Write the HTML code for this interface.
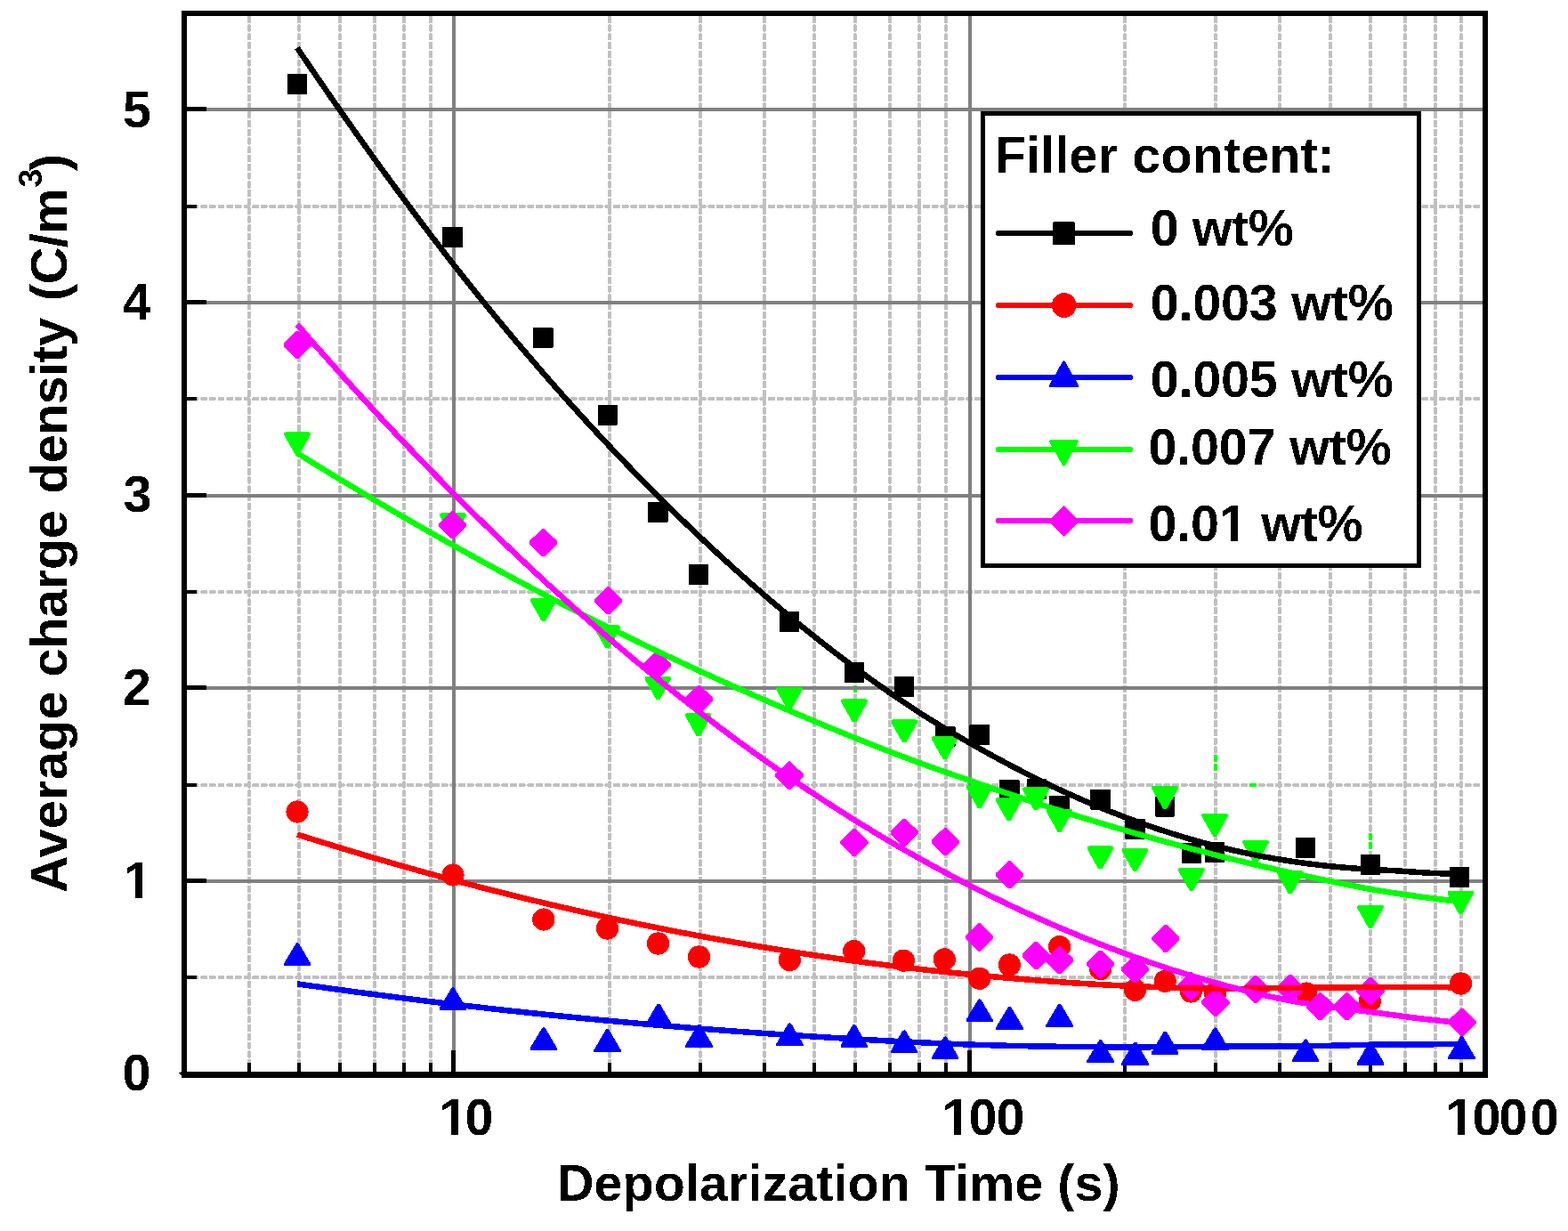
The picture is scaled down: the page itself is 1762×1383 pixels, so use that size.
<!DOCTYPE html>
<html lang="en"><head><meta charset="utf-8"><title>Average charge density vs depolarization time</title>
<style>
html,body{margin:0;padding:0;background:#fff}
body{width:1762px;height:1383px;overflow:hidden}
svg{display:block;shape-rendering:crispEdges}
text{font-family:"Liberation Sans",sans-serif;font-weight:bold;fill:#000}
.gM{stroke:#808080;stroke-width:4;fill:none}
.gm{stroke:#c0c0c0;stroke-width:4;fill:none;stroke-linecap:round}
.gv{stroke-dasharray:4.6 5.17;stroke-dashoffset:-1.52}
.gh{stroke-dasharray:4.3 5.363;stroke-dashoffset:-7.37}
.fit{fill:none;stroke-width:6.5;stroke-linecap:butt;stroke-linejoin:round}
.lg{fill:none;stroke-width:6.3;stroke-linecap:round}
</style></head><body>
<svg width="1762" height="1383" viewBox="0 0 1762 1383" role="img" aria-label="Average charge density versus depolarization time for five filler contents">
<defs><filter id="hard" filterUnits="userSpaceOnUse" x="0" y="0" width="1762" height="1383" color-interpolation-filters="sRGB"><feComponentTransfer><feFuncA type="discrete" tableValues="0 1"/></feComponentTransfer></filter></defs>
<rect width="1762" height="1383" fill="#fff"/>
<g class="gm">
<path class="gv" d="M280 18V1204"/>
<path class="gv" d="M336 18V1204"/>
<path class="gv" d="M382 18V1204"/>
<path class="gv" d="M421 18V1204"/>
<path class="gv" d="M454 18V1204"/>
<path class="gv" d="M484 18V1204"/>
<path class="gv" d="M685 18V1204"/>
<path class="gv" d="M787 18V1204"/>
<path class="gv" d="M859 18V1204"/>
<path class="gv" d="M915 18V1204"/>
<path class="gv" d="M961 18V1204"/>
<path class="gv" d="M1000 18V1204"/>
<path class="gv" d="M1033 18V1204"/>
<path class="gv" d="M1063 18V1204"/>
<path class="gv" d="M1264 18V1204"/>
<path class="gv" d="M1366 18V1204"/>
<path class="gv" d="M1438 18V1204"/>
<path class="gv" d="M1495 18V1204"/>
<path class="gv" d="M1540 18V1204"/>
<path class="gv" d="M1579 18V1204"/>
<path class="gv" d="M1613 18V1204"/>
<path class="gv" d="M1642 18V1204"/>
<path class="gh" d="M210 232H1666"/>
<path class="gh" d="M210 448H1666"/>
<path class="gh" d="M210 665H1666"/>
<path class="gh" d="M210 882H1666"/>
<path class="gh" d="M210 1098H1666"/>
</g>
<g stroke="#0f0" stroke-width="4" fill="none" stroke-linecap="round">
<path d="M961 771.81v4.6"/>
<path d="M1366 849.97v4.6"/>
<path d="M1366 859.74v4.6"/>
<path d="M1540 937.9v4.6"/>
<path d="M1540 947.67v4.6"/>
<path d="M1405.92 882h4.3"/>
</g>
<g class="gM">
<path d="M510 18V1204"/>
<path d="M1090 18V1204"/>
<path d="M210 123H1666"/>
<path d="M210 340H1666"/>
<path d="M210 557H1666"/>
<path d="M210 773H1666"/>
<path d="M210 990H1666"/>
</g>
<g fill="#000">
<rect x="209" y="120" width="23" height="5" rx="1"/>
<rect x="209" y="337" width="23" height="5" rx="1"/>
<rect x="209" y="554" width="23" height="5" rx="1"/>
<rect x="209" y="770" width="23" height="5" rx="1"/>
<rect x="209" y="987" width="23" height="5" rx="1"/>
<rect x="209" y="230" width="12" height="4" rx="1"/>
<rect x="209" y="446" width="12" height="4" rx="1"/>
<rect x="209" y="663" width="12" height="4" rx="1"/>
<rect x="209" y="880" width="12" height="4" rx="1"/>
<rect x="209" y="1096" width="12" height="4" rx="1"/>
<rect x="507" y="1180.2" width="5" height="25" rx="1"/>
<rect x="1087" y="1180.2" width="5" height="25" rx="1"/>
<rect x="278" y="1194.2" width="4" height="11" rx="1"/>
<rect x="334" y="1194.2" width="4" height="11" rx="1"/>
<rect x="380" y="1194.2" width="4" height="11" rx="1"/>
<rect x="419" y="1194.2" width="4" height="11" rx="1"/>
<rect x="452" y="1194.2" width="4" height="11" rx="1"/>
<rect x="482" y="1194.2" width="4" height="11" rx="1"/>
<rect x="683" y="1194.2" width="4" height="11" rx="1"/>
<rect x="785" y="1194.2" width="4" height="11" rx="1"/>
<rect x="857" y="1194.2" width="4" height="11" rx="1"/>
<rect x="913" y="1194.2" width="4" height="11" rx="1"/>
<rect x="959" y="1194.2" width="4" height="11" rx="1"/>
<rect x="998" y="1194.2" width="4" height="11" rx="1"/>
<rect x="1031" y="1194.2" width="4" height="11" rx="1"/>
<rect x="1061" y="1194.2" width="4" height="11" rx="1"/>
<rect x="1262" y="1194.2" width="4" height="11" rx="1"/>
<rect x="1364" y="1194.2" width="4" height="11" rx="1"/>
<rect x="1436" y="1194.2" width="4" height="11" rx="1"/>
<rect x="1493" y="1194.2" width="4" height="11" rx="1"/>
<rect x="1538" y="1194.2" width="4" height="11" rx="1"/>
<rect x="1577" y="1194.2" width="4" height="11" rx="1"/>
<rect x="1611" y="1194.2" width="4" height="11" rx="1"/>
<rect x="1640" y="1194.2" width="4" height="11" rx="1"/>
</g>
<g fill="#000">
<rect x="322.9" y="82.9" width="22.4" height="23" rx="0.8"/>
<rect x="497.4" y="255" width="22.4" height="23" rx="0.8"/>
<rect x="599.1" y="368" width="22.4" height="23" rx="0.8"/>
<rect x="671.5" y="454.5" width="22.4" height="23" rx="0.8"/>
<rect x="728.1" y="563.9" width="22.4" height="23" rx="0.8"/>
<rect x="773.5" y="633.8" width="22.4" height="23" rx="0.8"/>
<rect x="875.9" y="687" width="22.4" height="23" rx="0.8"/>
<rect x="948.8" y="744.1" width="22.4" height="23" rx="0.8"/>
<rect x="1005" y="760.4" width="22.4" height="23" rx="0.8"/>
<rect x="1051.2" y="816" width="22.4" height="23" rx="0.8"/>
<rect x="1089.4" y="814.1" width="22.4" height="23" rx="0.8"/>
<rect x="1123.1" y="875.9" width="22.4" height="23" rx="0.8"/>
<rect x="1153.5" y="875" width="22.4" height="23" rx="0.8"/>
<rect x="1179.3" y="893.5" width="22.4" height="23" rx="0.8"/>
<rect x="1225.2" y="886.5" width="22.4" height="23" rx="0.8"/>
<rect x="1264.2" y="919.5" width="22.4" height="23" rx="0.8"/>
<rect x="1297.8" y="894.5" width="22.4" height="23" rx="0.8"/>
<rect x="1327.5" y="947" width="22.4" height="23" rx="0.8"/>
<rect x="1353.9" y="946" width="22.4" height="23" rx="0.8"/>
<rect x="1455.6" y="940.8" width="22.4" height="23" rx="0.8"/>
<rect x="1528.5" y="960.3" width="22.4" height="23" rx="0.8"/>
<rect x="1628.9" y="974" width="22.4" height="23" rx="0.8"/>
</g>
<g fill="#f00">
<circle cx="334" cy="912" r="12.6"/>
<circle cx="509" cy="983" r="12.6"/>
<circle cx="610.8" cy="1033" r="12.6"/>
<circle cx="682.5" cy="1043" r="12.6"/>
<circle cx="739.5" cy="1060" r="12.6"/>
<circle cx="785.5" cy="1075" r="12.6"/>
<circle cx="887.3" cy="1078.6" r="12.6"/>
<circle cx="959.7" cy="1068.6" r="12.6"/>
<circle cx="1015.4" cy="1079.1" r="12.6"/>
<circle cx="1061.3" cy="1077.9" r="12.6"/>
<circle cx="1100.7" cy="1099.3" r="12.6"/>
<circle cx="1134.4" cy="1084" r="12.6"/>
<circle cx="1190.6" cy="1063.6" r="12.6"/>
<circle cx="1236.6" cy="1088.6" r="12.6"/>
<circle cx="1275.5" cy="1112.3" r="12.6"/>
<circle cx="1309.2" cy="1102.3" r="12.6"/>
<circle cx="1338.4" cy="1114" r="12.6"/>
<circle cx="1365.5" cy="1116" r="12.6"/>
<circle cx="1467.9" cy="1116" r="12.6"/>
<circle cx="1539.3" cy="1124.9" r="12.6"/>
<circle cx="1641.5" cy="1105" r="12.6"/>
</g>
<g fill="#00f">
<path d="M318.9 1085.2L318.9 1082.8L332.6 1059.8L334.4 1059.2L336.1 1060.2L349.3 1082.8L349.3 1085.2Z"/>
<path d="M493.7 1135.1L493.7 1132.7L507.4 1109.7L509.2 1109.1L510.9 1110.1L524.1 1132.7L524.1 1135.1Z"/>
<path d="M595.6 1180.1L595.6 1177.7L609.3 1154.7L611.1 1154.1L612.8 1155.1L626 1177.7L626 1180.1Z"/>
<path d="M667.3 1182L667.3 1179.6L681 1156.6L682.8 1156L684.5 1157L697.7 1179.6L697.7 1182Z"/>
<path d="M724.8 1153.5L724.8 1151.1L738.5 1128.1L740.3 1127.5L742 1128.5L755.2 1151.1L755.2 1153.5Z"/>
<path d="M770.3 1176.5L770.3 1174.1L784 1151.1L785.8 1150.5L787.5 1151.5L800.7 1174.1L800.7 1176.5Z"/>
<path d="M872.1 1175.3L872.1 1172.9L885.8 1149.9L887.6 1149.3L889.3 1150.3L902.5 1172.9L902.5 1175.3Z"/>
<path d="M944.5 1177L944.5 1174.6L958.2 1151.6L960 1151L961.7 1152L974.9 1174.6L974.9 1177Z"/>
<path d="M1000.7 1183.3L1000.7 1180.9L1014.4 1157.9L1016.2 1157.3L1017.9 1158.3L1031.1 1180.9L1031.1 1183.3Z"/>
<path d="M1046.9 1190.3L1046.9 1187.9L1060.6 1164.9L1062.4 1164.3L1064.1 1165.3L1077.3 1187.9L1077.3 1190.3Z"/>
<path d="M1085.5 1148.3L1085.5 1145.9L1099.2 1122.9L1101 1122.3L1102.7 1123.3L1115.9 1145.9L1115.9 1148.3Z"/>
<path d="M1119.2 1156.6L1119.2 1154.2L1132.9 1131.2L1134.7 1130.6L1136.4 1131.6L1149.6 1154.2L1149.6 1156.6Z"/>
<path d="M1175.4 1153.8L1175.4 1151.4L1189.1 1128.4L1190.9 1127.8L1192.6 1128.8L1205.8 1151.4L1205.8 1153.8Z"/>
<path d="M1221.4 1194L1221.4 1191.6L1235.1 1168.6L1236.9 1168L1238.6 1169L1251.8 1191.6L1251.8 1194Z"/>
<path d="M1260.3 1196.5L1260.3 1194.1L1274 1171.1L1275.8 1170.5L1277.5 1171.5L1290.7 1194.1L1290.7 1196.5Z"/>
<path d="M1294 1184.5L1294 1182.1L1307.7 1159.1L1309.5 1158.5L1311.2 1159.5L1324.4 1182.1L1324.4 1184.5Z"/>
<path d="M1350.3 1180.2L1350.3 1177.8L1364 1154.8L1365.8 1154.2L1367.5 1155.2L1380.7 1177.8L1380.7 1180.2Z"/>
<path d="M1451.8 1193.3L1451.8 1190.9L1465.5 1167.9L1467.3 1167.3L1469 1168.3L1482.2 1190.9L1482.2 1193.3Z"/>
<path d="M1524.8 1196.5L1524.8 1194.1L1538.5 1171.1L1540.3 1170.5L1542 1171.5L1555.2 1194.1L1555.2 1196.5Z"/>
<path d="M1627.2 1190L1627.2 1187.6L1640.9 1164.6L1642.7 1164L1644.4 1165L1657.6 1187.6L1657.6 1190Z"/>
</g>
<g fill="#0f0">
<path d="M319.3 486.5L321.4 485.3L346.6 485.3L348.7 486.5L348.7 488.9L336.2 511.3L332 511.3L319.3 488.9Z"/>
<path d="M494.3 577.6L496.4 576.4L521.6 576.4L523.7 577.6L523.7 580L511.2 602.4L507 602.4L494.3 580Z"/>
<path d="M596 673L598.1 671.8L623.3 671.8L625.4 673L625.4 675.4L612.9 697.8L608.7 697.8L596 675.4Z"/>
<path d="M667.7 703.5L669.8 702.3L695 702.3L697.1 703.5L697.1 705.9L684.6 728.3L680.4 728.3L667.7 705.9Z"/>
<path d="M724.6 760.9L726.7 759.7L751.9 759.7L754 760.9L754 763.3L741.5 785.7L737.3 785.7L724.6 763.3Z"/>
<path d="M770 802.1L772.1 800.9L797.3 800.9L799.4 802.1L799.4 804.5L786.9 826.9L782.7 826.9L770 804.5Z"/>
<path d="M872.3 772.7L874.4 771.5L899.6 771.5L901.7 772.7L901.7 775.1L889.2 797.5L885 797.5L872.3 775.1Z"/>
<path d="M945.3 786.6L947.4 785.4L972.6 785.4L974.7 786.6L974.7 789L962.2 811.4L958 811.4L945.3 789Z"/>
<path d="M1001.5 809.6L1003.6 808.4L1028.8 808.4L1030.9 809.6L1030.9 812L1018.4 834.4L1014.2 834.4L1001.5 812Z"/>
<path d="M1046.9 828.2L1049 827L1074.2 827L1076.3 828.2L1076.3 830.6L1063.8 853L1059.6 853L1046.9 830.6Z"/>
<path d="M1085.9 883L1088 881.8L1113.2 881.8L1115.3 883L1115.3 885.4L1102.8 907.8L1098.6 907.8L1085.9 885.4Z"/>
<path d="M1118.8 897.2L1120.9 896L1146.1 896L1148.2 897.2L1148.2 899.6L1135.7 922L1131.5 922L1118.8 899.6Z"/>
<path d="M1149.3 885.5L1151.4 884.3L1176.6 884.3L1178.7 885.5L1178.7 887.9L1166.2 910.3L1162 910.3L1149.3 887.9Z"/>
<path d="M1175.8 909.7L1177.9 908.5L1203.1 908.5L1205.2 909.7L1205.2 912.1L1192.7 934.5L1188.5 934.5L1175.8 912.1Z"/>
<path d="M1221.7 951.6L1223.8 950.4L1249 950.4L1251.1 951.6L1251.1 954L1238.6 976.4L1234.4 976.4L1221.7 954Z"/>
<path d="M1260.7 953.9L1262.8 952.7L1288 952.7L1290.1 953.9L1290.1 956.3L1277.6 978.7L1273.4 978.7L1260.7 956.3Z"/>
<path d="M1294.4 884L1296.5 882.8L1321.7 882.8L1323.8 884L1323.8 886.4L1311.3 908.8L1307.1 908.8L1294.4 886.4Z"/>
<path d="M1324.1 975.9L1326.2 974.7L1351.4 974.7L1353.5 975.9L1353.5 978.3L1341 1000.7L1336.8 1000.7L1324.1 978.3Z"/>
<path d="M1350.4 914.7L1352.5 913.5L1377.7 913.5L1379.8 914.7L1379.8 917.1L1367.3 939.5L1363.1 939.5L1350.4 917.1Z"/>
<path d="M1396.4 944.8L1398.5 943.6L1423.7 943.6L1425.8 944.8L1425.8 947.2L1413.3 969.6L1409.1 969.6L1396.4 947.2Z"/>
<path d="M1435.1 979.2L1437.2 978L1462.4 978L1464.5 979.2L1464.5 981.6L1452 1004L1447.8 1004L1435.1 981.6Z"/>
<path d="M1525.1 1017.8L1527.2 1016.6L1552.4 1016.6L1554.5 1017.8L1554.5 1020.2L1542 1042.6L1537.8 1042.6L1525.1 1020.2Z"/>
<path d="M1626.5 1001.7L1628.6 1000.5L1653.8 1000.5L1655.9 1001.7L1655.9 1004.1L1643.4 1026.5L1639.2 1026.5L1626.5 1004.1Z"/>
</g>
<g fill="#f0f">
<path d="M333 371.8L335.4 371.8L349.9 386L349.9 389L335.9 403L332.5 403L318.5 388.9L318.5 386Z"/>
<path d="M507.3 574.1L509.7 574.1L524.2 588.3L524.2 591.3L510.2 605.3L506.8 605.3L492.8 591.2L492.8 588.3Z"/>
<path d="M609.3 593.9L611.7 593.9L626.2 608.1L626.2 611.1L612.2 625.1L608.8 625.1L594.8 611L594.8 608.1Z"/>
<path d="M682.4 659.2L684.8 659.2L699.3 673.4L699.3 676.4L685.3 690.4L681.9 690.4L667.9 676.3L667.9 673.4Z"/>
<path d="M737.3 731.6L739.7 731.6L754.2 745.8L754.2 748.8L740.2 762.8L736.8 762.8L722.8 748.7L722.8 745.8Z"/>
<path d="M784.3 769.8L786.7 769.8L801.2 784L801.2 787L787.2 801L783.8 801L769.8 786.9L769.8 784Z"/>
<path d="M885.8 855.4L888.2 855.4L902.7 869.6L902.7 872.6L888.7 886.6L885.3 886.6L871.3 872.5L871.3 869.6Z"/>
<path d="M958.8 931.1L961.2 931.1L975.7 945.3L975.7 948.3L961.7 962.3L958.3 962.3L944.3 948.2L944.3 945.3Z"/>
<path d="M1015 919.6L1017.4 919.6L1031.9 933.8L1031.9 936.8L1017.9 950.8L1014.5 950.8L1000.5 936.7L1000.5 933.8Z"/>
<path d="M1061.2 929.9L1063.6 929.9L1078.1 944.1L1078.1 947.1L1064.1 961.1L1060.7 961.1L1046.7 947L1046.7 944.1Z"/>
<path d="M1099.5 1037.3L1101.9 1037.3L1116.4 1051.5L1116.4 1054.5L1102.4 1068.5L1099 1068.5L1085 1054.4L1085 1051.5Z"/>
<path d="M1133.3 967L1135.7 967L1150.2 981.2L1150.2 984.2L1136.2 998.2L1132.8 998.2L1118.8 984.1L1118.8 981.2Z"/>
<path d="M1163 1058L1165.4 1058L1179.9 1072.2L1179.9 1075.2L1165.9 1089.2L1162.5 1089.2L1148.5 1075.1L1148.5 1072.2Z"/>
<path d="M1189.4 1063L1191.8 1063L1206.3 1077.2L1206.3 1080.2L1192.3 1094.2L1188.9 1094.2L1174.9 1080.1L1174.9 1077.2Z"/>
<path d="M1235.4 1067.5L1237.8 1067.5L1252.3 1081.7L1252.3 1084.7L1238.3 1098.7L1234.9 1098.7L1220.9 1084.6L1220.9 1081.7Z"/>
<path d="M1274.3 1073L1276.7 1073L1291.2 1087.2L1291.2 1090.2L1277.2 1104.2L1273.8 1104.2L1259.8 1090.1L1259.8 1087.2Z"/>
<path d="M1308.5 1038.8L1310.9 1038.8L1325.4 1053L1325.4 1056L1311.4 1070L1308 1070L1294 1055.9L1294 1053Z"/>
<path d="M1337.2 1092.4L1339.6 1092.4L1354.1 1106.6L1354.1 1109.6L1340.1 1123.6L1336.7 1123.6L1322.7 1109.5L1322.7 1106.6Z"/>
<path d="M1364.6 1110.5L1367 1110.5L1381.5 1124.7L1381.5 1127.7L1367.5 1141.7L1364.1 1141.7L1350.1 1127.6L1350.1 1124.7Z"/>
<path d="M1409.8 1095.5L1412.2 1095.5L1426.7 1109.7L1426.7 1112.7L1412.7 1126.7L1409.3 1126.7L1395.3 1112.6L1395.3 1109.7Z"/>
<path d="M1448.7 1094.6L1451.1 1094.6L1465.6 1108.8L1465.6 1111.8L1451.6 1125.8L1448.2 1125.8L1434.2 1111.7L1434.2 1108.8Z"/>
<path d="M1482.7 1115.2L1485.1 1115.2L1499.6 1129.4L1499.6 1132.4L1485.6 1146.4L1482.2 1146.4L1468.2 1132.3L1468.2 1129.4Z"/>
<path d="M1512.5 1115.1L1514.9 1115.1L1529.4 1129.3L1529.4 1132.3L1515.4 1146.3L1512 1146.3L1498 1132.2L1498 1129.3Z"/>
<path d="M1538.8 1098L1541.2 1098L1555.7 1112.2L1555.7 1115.2L1541.7 1129.2L1538.3 1129.2L1524.3 1115.1L1524.3 1112.2Z"/>
<path d="M1641.7 1132.5L1644.1 1132.5L1658.6 1146.7L1658.6 1149.7L1644.6 1163.7L1641.2 1163.7L1627.2 1149.6L1627.2 1146.7Z"/>
</g>
<path class="fit" stroke="#000" d="M334 53.78L352.9 81.69L371.9 109.28L390.8 136.46L409.8 163.21L428.7 189.55L447.7 215.49L466.6 241.01L485.6 266.07L504.5 290.63L523.5 314.67L542.4 338.24L561.4 361.35L580.3 384.02L599.3 406.24L618.2 428.05L637.2 449.43L656.1 470.4L675.1 490.95L694 511.06L713 530.75L731.9 550.02L750.9 568.89L769.8 587.35L788.8 605.4L807.7 623.06L826.7 640.29L845.6 657.11L864.6 673.5L883.5 689.47L902.5 705.02L921.4 720.14L940.4 734.84L959.3 749.12L978.3 762.98L997.2 776.4L1016.2 789.38L1035.1 801.85L1054.1 813.71L1073 825.05L1092 836.02L1110.9 846.67L1129.9 856.95L1148.8 866.84L1167.8 876.33L1186.7 885.39L1205.7 894.04L1224.6 902.27L1243.6 910.09L1262.5 917.51L1281.5 924.51L1300.4 931.09L1319.4 937.24L1338.3 942.97L1357.3 948.26L1376.2 953.09L1395.2 957.42L1414.1 961.29L1433.1 964.74L1452 967.8L1471 970.46L1489.9 972.7L1508.9 974.54L1527.8 975.96L1546.8 977.06L1565.7 978.11L1584.7 979.35L1603.6 980.59L1622.6 981.5L1641.5 982.01"/>
<path class="fit" stroke="#f00" d="M334 937.51L352.9 943.46L371.9 949.32L390.8 955.09L409.8 960.75L428.7 966.3L447.7 971.75L466.6 977.1L485.6 982.34L504.5 987.48L523.5 992.51L542.4 997.44L561.4 1002.27L580.3 1006.99L599.3 1011.6L618.2 1016.12L637.2 1020.52L656.1 1024.83L675.1 1029.03L694 1033.12L713 1037.11L731.9 1041L750.9 1044.78L769.8 1048.46L788.8 1052.03L807.7 1055.5L826.7 1058.86L845.6 1062.12L864.6 1065.28L883.5 1068.33L902.5 1071.28L921.4 1074.12L940.4 1076.86L959.3 1079.5L978.3 1082.03L997.2 1084.45L1016.2 1086.77L1035.1 1088.99L1054.1 1091.1L1073 1093.11L1092 1095.02L1110.9 1096.82L1129.9 1098.51L1148.8 1100.11L1167.8 1101.59L1186.7 1102.98L1205.7 1104.26L1224.6 1105.43L1243.6 1106.5L1262.5 1107.46L1281.5 1108.31L1300.4 1109.05L1319.4 1109.68L1338.3 1110.19L1357.3 1110.59L1376.2 1110.84L1395.2 1110.81L1414.1 1110.5L1433.1 1110.14L1452 1109.93L1471 1109.77L1489.9 1109.58L1508.9 1109.36L1527.8 1109.2L1546.8 1109.07L1565.7 1108.96L1584.7 1108.92L1603.6 1108.98L1622.6 1109.18L1641.5 1109.51"/>
<path class="fit" stroke="#00f" d="M334 1105.31L352.9 1107.99L371.9 1110.63L390.8 1113.22L409.8 1115.76L428.7 1118.25L447.7 1120.69L466.6 1123.08L485.6 1125.41L504.5 1127.7L523.5 1129.93L542.4 1132.11L561.4 1134.24L580.3 1136.32L599.3 1138.34L618.2 1140.32L637.2 1142.24L656.1 1144.12L675.1 1145.94L694 1147.71L713 1149.43L731.9 1151.09L750.9 1152.71L769.8 1154.28L788.8 1155.79L807.7 1157.25L826.7 1158.66L845.6 1160.02L864.6 1161.33L883.5 1162.59L902.5 1163.8L921.4 1164.97L940.4 1166.12L959.3 1167.24L978.3 1168.32L997.2 1169.36L1016.2 1170.34L1035.1 1171.27L1054.1 1172.12L1073 1172.91L1092 1173.61L1110.9 1174.22L1129.9 1174.73L1148.8 1175.15L1167.8 1175.49L1186.7 1175.76L1205.7 1175.98L1224.6 1176.14L1243.6 1176.26L1262.5 1176.32L1281.5 1176.31L1300.4 1176.23L1319.4 1176.1L1338.3 1175.95L1357.3 1175.8L1376.2 1175.67L1395.2 1175.61L1414.1 1175.61L1433.1 1175.61L1452 1175.51L1471 1175.26L1489.9 1174.89L1508.9 1174.45L1527.8 1173.97L1546.8 1173.57L1565.7 1173.38L1584.7 1173.34L1603.6 1173.29L1622.6 1173.21L1641.5 1173.16"/>
<path class="fit" stroke="#0f0" d="M334 509.08L352.9 520.79L371.9 532.4L390.8 543.88L409.8 555.23L428.7 566.46L447.7 577.55L466.6 588.51L485.6 599.35L504.5 610.05L523.5 620.62L542.4 631.07L561.4 641.38L580.3 651.56L599.3 661.62L618.2 671.54L637.2 681.34L656.1 691L675.1 700.54L694 709.94L713 719.22L731.9 728.36L750.9 737.38L769.8 746.27L788.8 755.02L807.7 763.65L826.7 772.15L845.6 780.51L864.6 788.76L883.5 796.91L902.5 804.97L921.4 812.92L940.4 820.77L959.3 828.48L978.3 836.06L997.2 843.48L1016.2 850.74L1035.1 857.77L1054.1 864.54L1073 871.13L1092 877.69L1110.9 884.23L1129.9 890.69L1148.8 897.02L1167.8 903.24L1186.7 909.33L1205.7 915.3L1224.6 921.13L1243.6 926.83L1262.5 932.41L1281.5 937.85L1300.4 943.17L1319.4 948.36L1338.3 953.41L1357.3 958.33L1376.2 963.11L1395.2 967.76L1414.1 972.27L1433.1 976.65L1452 980.91L1471 985.04L1489.9 989.04L1508.9 992.91L1527.8 996.63L1546.8 1000.1L1565.7 1003.19L1584.7 1005.93L1603.6 1008.48L1622.6 1010.9L1641.5 1013.22"/>
<path class="fit" stroke="#f0f" d="M334 364.66L352.9 386.33L371.9 407.77L390.8 428.9L409.8 449.73L428.7 470.25L447.7 490.46L466.6 510.37L485.6 529.98L504.5 549.27L523.5 568.27L542.4 586.95L561.4 605.33L580.3 623.41L599.3 641.18L618.2 658.65L637.2 675.8L656.1 692.66L675.1 709.2L694 725.45L713 741.38L731.9 757.01L750.9 772.34L769.8 787.36L788.8 802.07L807.7 816.48L826.7 830.58L845.6 844.38L864.6 857.87L883.5 871.06L902.5 883.94L921.4 896.51L940.4 908.78L959.3 920.74L978.3 932.4L997.2 943.75L1016.2 954.8L1035.1 965.54L1054.1 975.98L1073 986.11L1092 995.93L1110.9 1005.45L1129.9 1014.66L1148.8 1023.57L1167.8 1032.17L1186.7 1040.46L1205.7 1048.46L1224.6 1056.16L1243.6 1063.57L1262.5 1070.69L1281.5 1077.5L1300.4 1084.02L1319.4 1090.23L1338.3 1096.12L1357.3 1101.72L1376.2 1107.01L1395.2 1111.99L1414.1 1116.65L1433.1 1120.93L1452 1124.65L1471 1127.78L1489.9 1130.49L1508.9 1132.99L1527.8 1135.36L1546.8 1137.8L1565.7 1140.37L1584.7 1142.9L1603.6 1145.23L1622.6 1147.32L1641.5 1149.15"/>
<g fill="#000">
<rect x="204" y="12" width="6" height="1199"/>
<rect x="1666" y="12" width="6" height="1199"/>
<rect x="204" y="12" width="1468" height="6"/>
<rect x="204" y="1204" width="1468" height="7"/>
<path d="M201 1205.6L204 1204V1211H206.2Z"/>
</g>
<g id="ticklabels" filter="url(#hard)">
<text x="137.9" y="142.8" font-size="57.5">5</text>
<text x="137.7" y="359.2" font-size="57.5">4</text>
<text x="138.4" y="575.2" font-size="57.5">3</text>
<text x="137.7" y="792" font-size="57.5">2</text>
<text x="138.9" y="1009" font-size="57.5">1</text>
<text x="137.4" y="1225.4" font-size="57.5">0</text>
<text x="493.4 522.6" y="1275.2" font-size="57.5">10</text>
<text x="1058.4 1088.6 1119.6" y="1275.2" font-size="57.5">100</text>
<text x="1624.3 1654.6 1684.6 1719.7" y="1275.2" font-size="57.5">1000</text>
</g>
<g id="xtitle" filter="url(#hard)">
<text x="626" y="1349" font-size="57.5" textLength="632.7" lengthAdjust="spacing">Depolarization Time (s)</text>
</g>
<g id="ytitle" filter="url(#hard)">
<text transform="translate(74.9 1003.1) rotate(-90)" font-size="57.5" textLength="226.5" lengthAdjust="spacing">Average</text>
<text transform="translate(74.9 760.5) rotate(-90)" font-size="57.5" textLength="187.3" lengthAdjust="spacing">charge</text>
<text transform="translate(74.9 554.7) rotate(-90)" font-size="57.5" textLength="197.8" lengthAdjust="spacing">density</text>
<text transform="translate(74.9 337.9) rotate(-90)" font-size="57.5" textLength="126.4" lengthAdjust="spacing">(C/m</text>
<text transform="translate(46.8 210.4) rotate(-90)" font-size="37.5" textLength="23.5" lengthAdjust="spacing">3</text>
<text transform="translate(74.9 192) rotate(-90)" font-size="57.5" textLength="19.1" lengthAdjust="spacing">)</text>
</g>
<rect x="1104.6" y="127.6" width="489.9" height="507.8" fill="#fff" stroke="#000" stroke-width="5.2"/>
<g id="legend" filter="url(#hard)">
<text x="1118" y="194.1" font-size="57.5" textLength="382" lengthAdjust="spacing">Filler content:</text>
<text x="1292.7" y="276.3" font-size="57.5" textLength="161.2" lengthAdjust="spacing">0 wt%</text>
<text x="1292.7" y="360.4" font-size="57.5" textLength="273.1" lengthAdjust="spacing">0.003 wt%</text>
<text x="1292.7" y="445.5" font-size="57.5" textLength="273.1" lengthAdjust="spacing">0.005 wt%</text>
<text x="1290.6" y="522.3" font-size="57.5" textLength="273.1" lengthAdjust="spacing">0.007 wt%</text>
<text x="1290.6" y="607.5" font-size="57.5" textLength="241.1" lengthAdjust="spacing">0.01 wt%</text>
</g>
<path class="lg" stroke="#000" d="M1122.3 262.1H1270"/>
<path class="lg" stroke="#f00" d="M1122.3 342.9H1270"/>
<path class="lg" stroke="#00f" d="M1122.3 423.9H1270"/>
<path class="lg" stroke="#0f0" d="M1122.3 505H1270"/>
<path class="lg" stroke="#f0f" d="M1122.3 585.1H1270"/>
<rect x="1182.9" y="249.1" width="25.2" height="25.9" rx="2" fill="#000"/>
<circle cx="1195.7" cy="343" r="13.9" fill="#f00"/>
<path d="M1195.5 406.7L1210.6 433.4H1180.4Z" fill="#00f" stroke="#00f" stroke-width="3" stroke-linejoin="round"/>
<path d="M1180.4 495.8H1210.6L1195.5 522.2Z" fill="#0f0" stroke="#0f0" stroke-width="3" stroke-linejoin="round"/>
<path d="M1195.5 569.8L1210.3 585.5L1195.5 601.2L1180.7 585.5Z" fill="#f0f" stroke="#f0f" stroke-width="3" stroke-linejoin="round"/>
<g fill="#fff">
<rect x="140.9" y="1002.53" width="11.4" height="8.07"/><rect x="160.19" y="1002.53" width="10.67" height="8.07"/>
<rect x="495.4" y="1268.73" width="11.4" height="8.07"/><rect x="514.69" y="1268.73" width="10.67" height="8.07"/>
<rect x="1060.4" y="1268.73" width="11.4" height="8.07"/><rect x="1079.69" y="1268.73" width="10.67" height="8.07"/>
<rect x="1626.3" y="1268.73" width="11.4" height="8.07"/><rect x="1645.59" y="1268.73" width="10.67" height="8.07"/>
<rect x="1371.78" y="601.03" width="11.4" height="8.07"/><rect x="1391.07" y="601.03" width="10.67" height="8.07"/>
</g>
</svg>
</body></html>
